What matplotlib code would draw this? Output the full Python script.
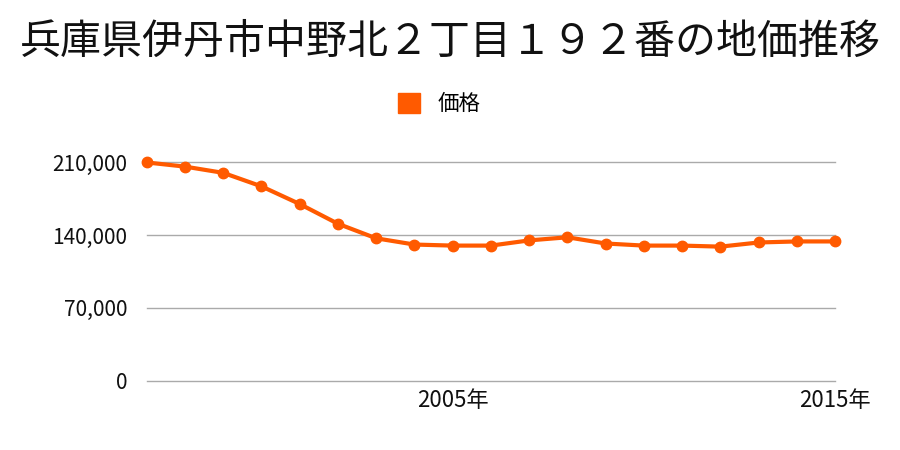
import matplotlib
matplotlib.use("Agg")
import matplotlib.pyplot as plt
from matplotlib.ticker import FuncFormatter

plt.rcParams['font.family'] = ['Noto Sans CJK JP', 'DejaVu Sans']

title = "兵庫県伊丹市中野北２丁目１９２番の地価推移"
series_name = "価格"
years = list(range(1997, 2016))
prices = [210000, 206000, 200000, 187000, 170000, 151000, 137000, 131000, 130000, 130000,
          135000, 138000, 132000, 130000, 130000, 129000, 133000, 134000, 134000]
yticks = [0, 70000, 140000, 210000]
xticks = [2005, 2015]
xtick_labels = ["2005年", "2015年"]

color = "#ff5a00"

fig = plt.figure(figsize=(9, 4.5), dpi=100)
ax = fig.add_axes([0.163, 0.154, 0.765, 0.485])

ax.plot(years, prices, color=color, linewidth=3, marker="o", markersize=7.5,
        clip_on=False, zorder=3, label=series_name)

ax.set_xlim(years[0], years[-1])
ax.set_ylim(0, 210000)
ax.set_yticks(yticks)
ax.yaxis.set_major_formatter(FuncFormatter(lambda v, p: f"{int(v):,}"))
ax.set_xticks(xticks)
ax.set_xticklabels(xtick_labels)
ax.tick_params(axis="both", length=0, colors="#111111")
ax.tick_params(axis="y", pad=14, labelsize=15)
ax.tick_params(axis="x", pad=6, labelsize=16)
for gl in ax.get_ygridlines():
    gl.set_clip_on(False)
ax.grid(axis="y", color="#aaaaaa", linewidth=1)
for gl in ax.get_ygridlines():
    gl.set_clip_on(False)
ax.set_axisbelow(True)
for s in ax.spines.values():
    s.set_visible(False)

fig.text(0.5, 0.906, title, ha="center", va="center", fontsize=29.5, color="#111111")

leg = fig.legend(handles=[plt.Rectangle((0, 0), 1, 1, color=color)], labels=[series_name],
                 loc="center", bbox_to_anchor=(0.488, 0.768), frameon=False, fontsize=15.5,
                 handlelength=1.0, handleheight=1.0, handletextpad=0.8)

fig.savefig("out.png", dpi=100, facecolor="white")
